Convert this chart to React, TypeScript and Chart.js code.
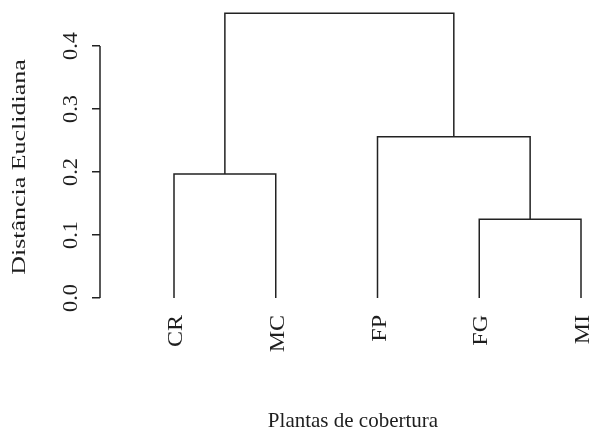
import React, { useEffect, useRef } from "react";
import { Chart, registerables } from "chart.js";

Chart.register(...registerables);

// Leaves in plotted order
const leafLabels = ["CR", "MC", "FP", "FG", "MI"];
// R-style merge matrix: negative = leaf (1-based index in leafLabels), positive = earlier merge (1-based)
const mergeA = [-4, -1, -3, 2];
const mergeB = [-5, -2, 1, 3];
const mergeHeights = [0.125, 0.197, 0.256, 0.452];
const yTicks = [0, 0.1, 0.2, 0.3, 0.4];
const yTickLabels = ["0.0", "0.1", "0.2", "0.3", "0.4"];
const xTitle = "Plantas de cobertura";
const yTitle = "Distância Euclidiana";

const LINE = "#222222";
const TEXT = "#1e1e1e";
const FONT = "'Liberation Serif', 'Times New Roman', serif";

function buildSegments() {
  const nodeX: number[] = [];
  const nodeH: number[] = [];
  const pos = (ref: number) => (ref < 0 ? -ref : nodeX[ref - 1]);
  const hgt = (ref: number) => (ref < 0 ? 0 : nodeH[ref - 1]);
  const sets: { x: number; y: number }[][] = [];
  for (let k = 0; k < mergeHeights.length; k++) {
    const xa = pos(mergeA[k]);
    const xb = pos(mergeB[k]);
    const ha = hgt(mergeA[k]);
    const hb = hgt(mergeB[k]);
    const H = mergeHeights[k];
    nodeX.push((xa + xb) / 2);
    nodeH.push(H);
    sets.push([
      { x: xa, y: ha },
      { x: xa, y: H },
      { x: xb, y: H },
      { x: xb, y: hb },
    ]);
  }
  return sets;
}

function drawRotated(
  ctx: CanvasRenderingContext2D,
  text: string,
  x: number,
  y: number,
  size: number,
  stretch: number,
  align: CanvasTextAlign
) {
  ctx.save();
  ctx.translate(x, y);
  ctx.rotate(-Math.PI / 2);
  ctx.scale(stretch, 1);
  ctx.font = `${size}px ${FONT}`;
  ctx.fillStyle = TEXT;
  ctx.textAlign = align;
  ctx.textBaseline = "alphabetic";
  ctx.fillText(text, 0, 0);
  ctx.restore();
}

const textPlugin = {
  id: "dendroText",
  afterDraw(chart: any) {
    const ctx: CanvasRenderingContext2D = chart.ctx;
    const xs = chart.scales.x;
    const ys = chart.scales.y;
    const left = chart.chartArea.left;
    // y axis line from first to last tick
    ctx.save();
    ctx.strokeStyle = LINE;
    ctx.lineWidth = 1.5;
    ctx.beginPath();
    ctx.moveTo(left, ys.getPixelForValue(yTicks[0]));
    ctx.lineTo(left, ys.getPixelForValue(yTicks[yTicks.length - 1]));
    ctx.stroke();
    ctx.restore();
    // y tick labels
    yTicks.forEach((v, i) => {
      drawRotated(ctx, yTickLabels[i], left - 23, ys.getPixelForValue(v), 20, 1.12, "center");
    });
    // y title
    drawRotated(ctx, yTitle, 25, (ys.getPixelForValue(0) + ys.getPixelForValue(0.4)) / 2 - 5, 19.5, 1.33, "center");
    // leaf labels
    const labelTop = ys.getPixelForValue(0) + 17;
    leafLabels.forEach((lab, i) => {
      drawRotated(ctx, lab, xs.getPixelForValue(i + 1) + 8, labelTop, 20, 1.2, "right");
    });
    // x title
    ctx.save();
    ctx.font = `21px ${FONT}`;
    ctx.fillStyle = TEXT;
    ctx.textAlign = "center";
    ctx.textBaseline = "alphabetic";
    ctx.fillText(xTitle, 353, 427);
    ctx.restore();
  },
};

export default function App() {
  const ref = useRef<HTMLCanvasElement>(null);
  useEffect(() => {
    if (!ref.current) return;
    const segs = buildSegments();
    const chart = new Chart(ref.current, {
      type: "scatter",
      data: {
        datasets: segs.map((d) => ({
          data: d,
          showLine: true,
          borderColor: LINE,
          borderWidth: 1.5,
          pointRadius: 0,
          pointHoverRadius: 0,
          tension: 0,
          fill: false,
        })),
      },
      options: {
        animation: false,
        responsive: false,
        maintainAspectRatio: false,
        layout: { padding: 0 },
        plugins: { legend: { display: false }, tooltip: { enabled: false }, title: { display: false } },
        scales: {
          x: {
            type: "linear",
            min: 0.2727,
            max: 5.0786,
            afterFit: (s: any) => {
              s.height = 124;
            },
            ticks: { display: false },
            grid: { display: false },
            border: { display: false },
          },
          y: {
            type: "linear",
            min: -0.01905,
            max: 0.47302,
            afterFit: (s: any) => {
              s.width = 100;
            },
            afterBuildTicks: (s: any) => {
              s.ticks = yTicks.map((v) => ({ value: v }));
            },
            ticks: { display: false },
            grid: {
              display: true,
              drawOnChartArea: false,
              drawTicks: true,
              tickLength: 8,
              color: LINE,
              lineWidth: 1.5,
            },
            border: { display: false },
          },
        },
      },
      plugins: [textPlugin],
    });
    return () => chart.destroy();
  }, []);
  return (
    <div style={{ position: "absolute", left: 0, top: 0, width: 589, height: 434, background: "#fff" }}>
      <canvas ref={ref} width={589} height={434} style={{ display: "block" }} />
    </div>
  );
}
